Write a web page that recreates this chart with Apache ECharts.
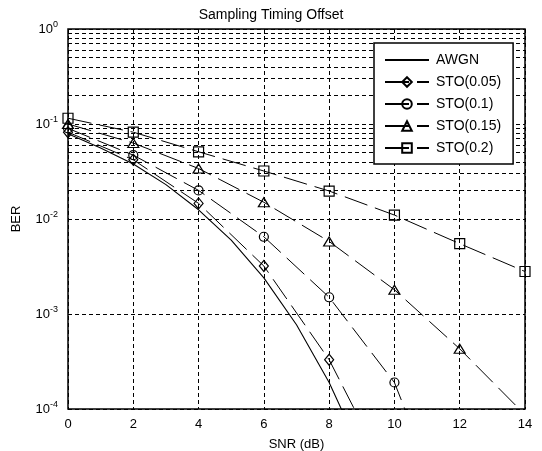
<!DOCTYPE html>
<html>
<head>
<meta charset="utf-8">
<script src="https://cdn.jsdelivr.net/npm/echarts@6/dist/echarts.min.js"></script>
<style>html,body{margin:0;padding:0;background:#fff}#main{width:542px;height:451px}</style>
</head>
<body>
<div id="main"></div>
<script>
// SNR points (dB) and BER
var snr = [0, 2, 4, 6, 8, 10, 12, 14];
var snrAwgn = [0, 1, 2, 3, 4, 5, 6, 7, 8, 9, 10];
var berAwgn = [0.079, 0.056, 0.038, 0.023, 0.0125, 0.006, 0.0024, 0.00077, 0.00019, 0.000034, 0.000004];
var berSto005 = [0.082, 0.042, 0.0146, 0.0032, 0.00033, 0.000015];
var berSto01 = [0.09, 0.047, 0.020, 0.0065, 0.0015, 0.00019, 0.0000034];
var berSto015 = [0.1, 0.063, 0.034, 0.015, 0.0058, 0.0018, 0.00043, 0.000087];
var berSto02 = [0.115, 0.082, 0.051, 0.032, 0.0197, 0.011, 0.0055, 0.0028];
var names = ['AWGN', 'STO(0.05)', 'STO(0.1)', 'STO(0.15)', 'STO(0.2)'];
var yTicks = [1e-4, 1e-3, 1e-2, 1e-1, 1];

var font = 'Liberation Sans, Arial, sans-serif';

function pairs(xs, ys) {
  return ys.map(function (y, i) { return [xs[i], y]; });
}

// minor log grid lines 2..9 in each decade
var minor = [];
for (var d = 0; d < yTicks.length - 1; d++) {
  for (var k = 2; k <= 9; k++) minor.push({ yAxis: k * yTicks[d] });
}

function stoSeries(name, ys, symbol, size) {
  return {
    name: name, type: 'line', z: 3,
    data: pairs(snr, ys),
    symbol: symbol, symbolSize: size,
    lineStyle: { color: '#000', width: 1, type: [24, 8] },
    itemStyle: { color: 'transparent', borderColor: '#000', borderWidth: 1.2 },
    clip: true
  };
}

var chart = echarts.init(document.getElementById('main'));
chart.setOption({
  animation: false,
  backgroundColor: '#fff',
  textStyle: { fontFamily: font, color: '#000' },
  title: {
    text: 'Sampling Timing Offset',
    left: 'center', top: 8,
    padding: [0, 0, 0, 51],
    textStyle: { fontFamily: font, fontSize: 14, fontWeight: 'normal', color: '#000' }
  },
  grid: {
    left: 68, top: 29, right: 17, bottom: 42,
    outerBoundsMode: 'none', containLabel: false,
    show: true, borderColor: '#000', borderWidth: 1.5, backgroundColor: '#fff'
  },
  legend: {
    data: names,
    orient: 'vertical',
    left: 374, top: 43,
    padding: [10, 12, 9, 10],
    itemGap: 8, itemWidth: 44, itemHeight: 12,
    borderColor: '#000', borderWidth: 1.5, backgroundColor: '#fff',
    textStyle: { fontFamily: font, fontSize: 14, color: '#000', padding: [0, 0, 0, 2] }
  },
  xAxis: {
    type: 'value', min: 0, max: 14, interval: 2,
    name: 'SNR (dB)', nameLocation: 'middle', nameGap: 29,
    nameTextStyle: { fontFamily: font, fontSize: 13, color: '#000' },
    axisLine: { show: false }, axisTick: { show: false },
    axisLabel: { fontFamily: font, fontSize: 13, color: '#000', margin: 9 },
    splitLine: { show: true, lineStyle: { color: '#000', type: [4, 3], width: 1 } }
  },
  yAxis: {
    type: 'log', logBase: 10, min: 1e-4, max: 1,
    name: 'BER', nameLocation: 'middle', nameGap: 45,
    nameTextStyle: { fontFamily: font, fontSize: 13, color: '#000' },
    axisLine: { show: false }, axisTick: { show: false },
    axisLabel: {
      margin: 10,
      formatter: function (v) {
        var e = Math.round(Math.log10(v));
        return '{b|10}{s|' + e + '}';
      },
      rich: {
        b: { fontFamily: font, fontSize: 13, color: '#000' },
        s: { fontFamily: font, fontSize: 9, color: '#000', padding: [0, 0, 9, 0] }
      }
    },
    splitLine: { show: true, lineStyle: { color: '#000', type: [4, 3], width: 1 } }
  },
  series: [
    {
      name: 'minor', type: 'line', z: 1, data: [[0, 1e-4]],
      showSymbol: false, lineStyle: { width: 0 },
      markLine: {
        z: 1, silent: true, symbol: ['none', 'none'], label: { show: false },
        lineStyle: { color: '#000', type: [4, 3], width: 1 },
        data: minor
      }
    },
    {
      name: 'AWGN', type: 'line', z: 3,
      data: pairs(snrAwgn, berAwgn),
      symbol: 'circle', showSymbol: false,
      lineStyle: { color: '#000', width: 1.1 },
      itemStyle: { color: 'transparent', borderColor: 'transparent', borderWidth: 0 },
      clip: true
    },
    stoSeries('STO(0.05)', berSto005, 'diamond', [9, 11]),
    stoSeries('STO(0.1)', berSto01, 'circle', 9),
    stoSeries('STO(0.15)', berSto015, 'triangle', [11, 9]),
    stoSeries('STO(0.2)', berSto02, 'rect', 10)
  ]
});
</script>
</body>
</html>
